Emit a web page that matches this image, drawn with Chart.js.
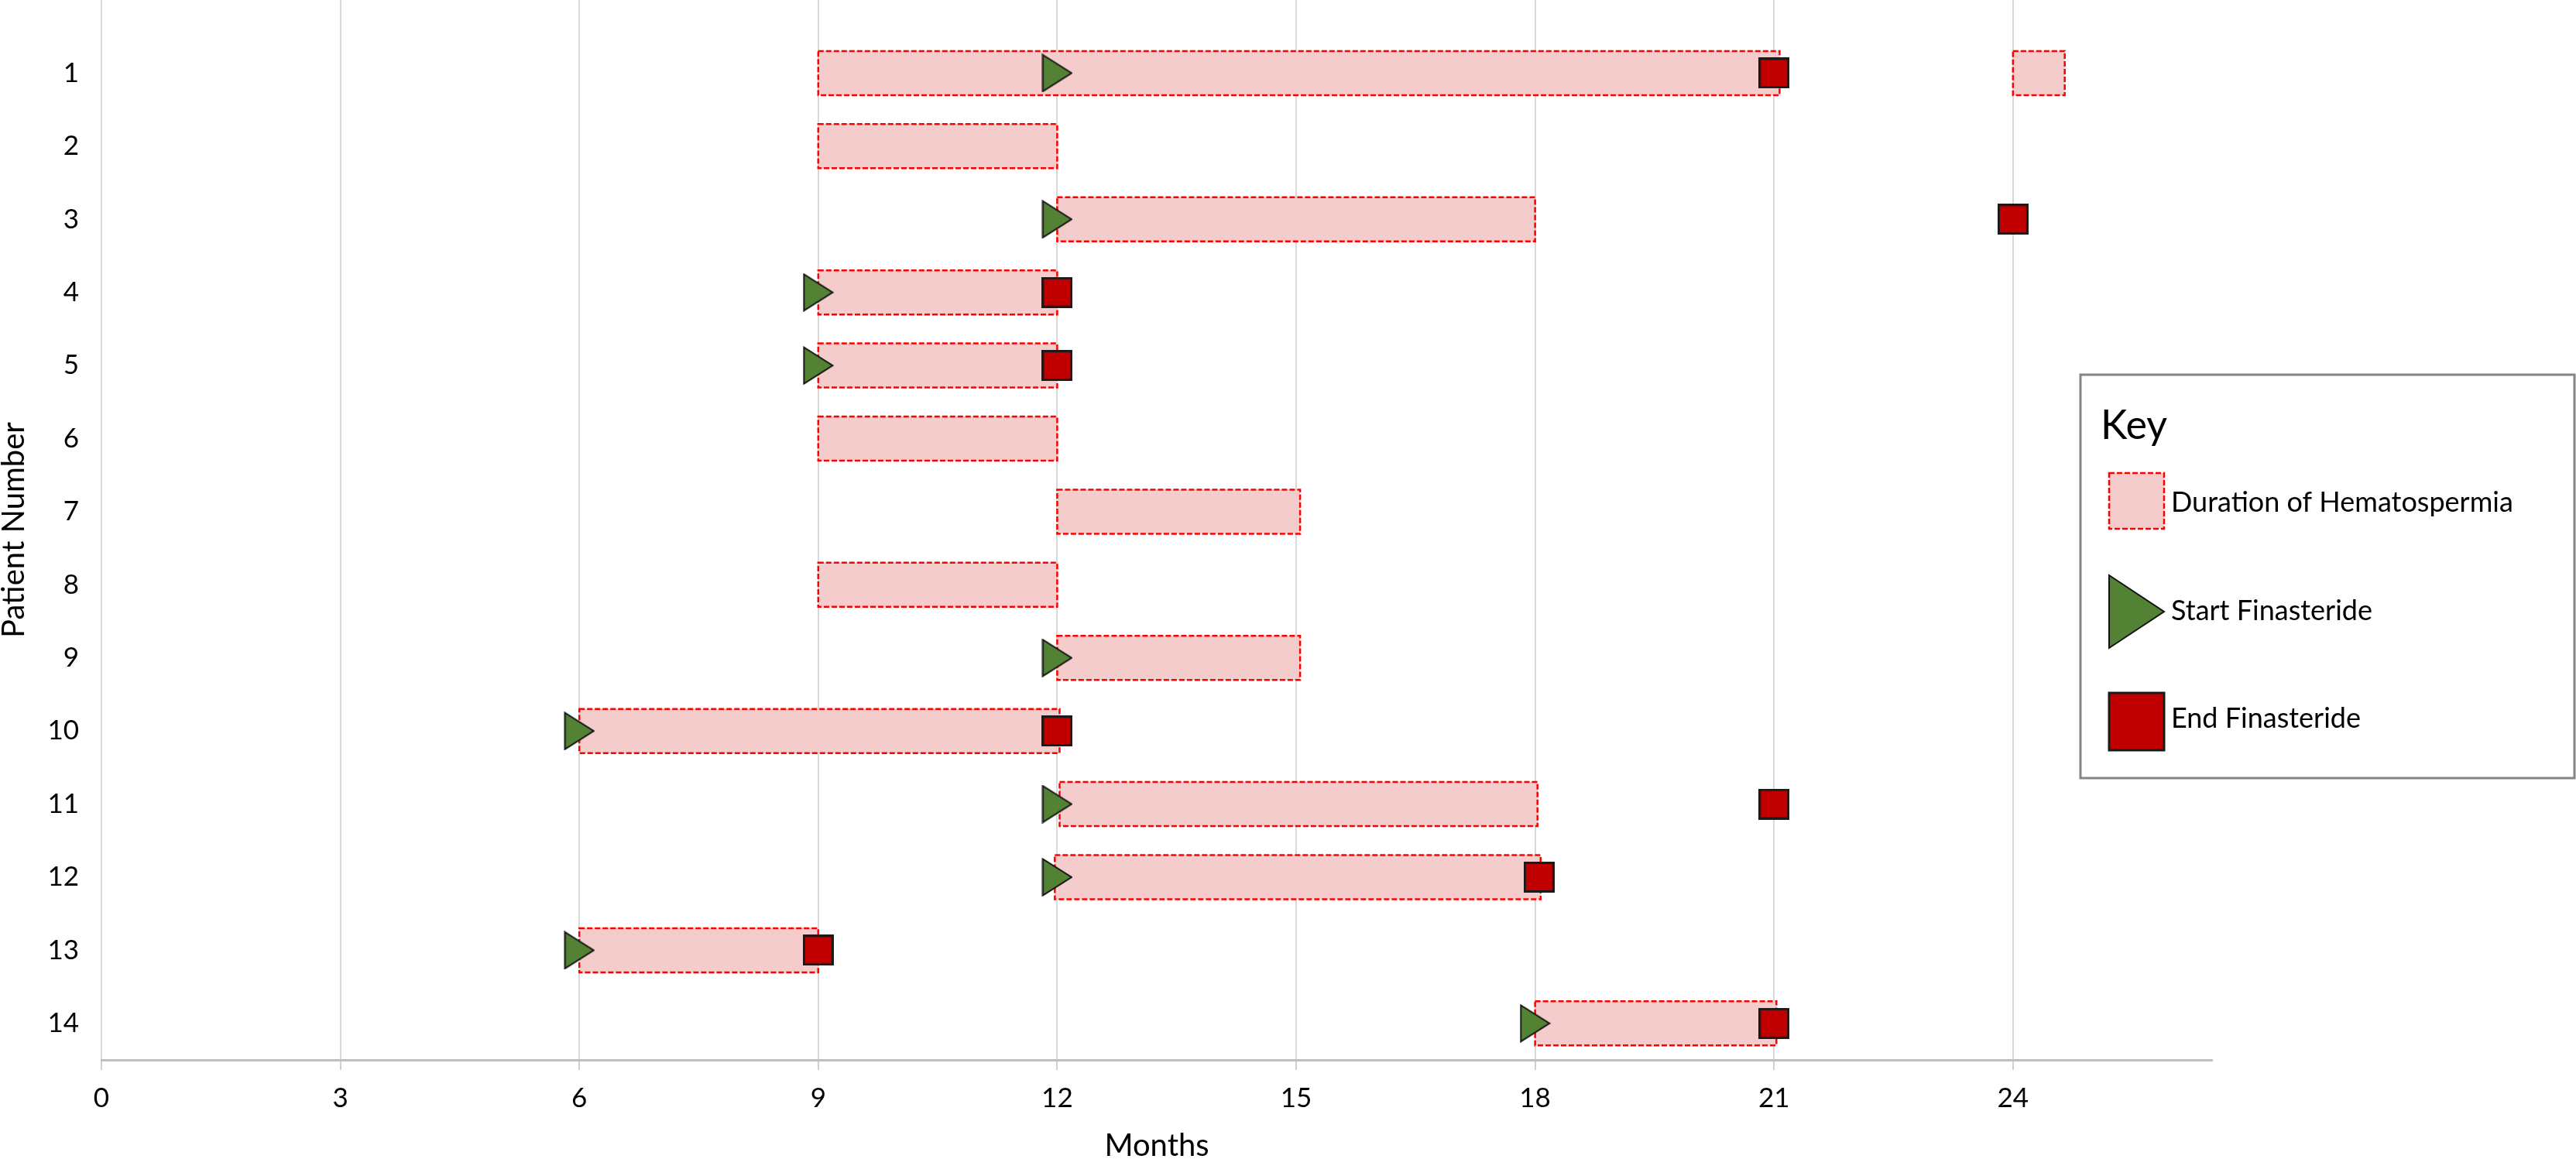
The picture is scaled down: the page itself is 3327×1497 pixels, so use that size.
<!DOCTYPE html>
<html>
<head>
<meta charset="utf-8">
<script src="https://cdn.jsdelivr.net/npm/chart.js@4.4.0/dist/chart.umd.min.js"></script>
<style>
  html, body { margin: 0; padding: 0; background: #fff; }
  #wrap { width: 3327px; height: 1497px; }
</style>
</head>
<body>
<div id="wrap"><canvas id="chart" width="3327" height="1497"></canvas></div>
<script>
// hematospermia episodes, one row per patient (months)
const patients = [1, 2, 3, 4, 5, 6, 7, 8, 9, 10, 11, 12, 13, 14];
const durationStart = [9, 9, 12, 9, 9, 9, 12, 9, 12, 6, 12.03, 11.97, 6, 18];
const durationEnd = [21.07, 12, 18, 12, 12, 12, 15.05, 12, 15.05, 12.03, 18.03, 18.07, 9, 21.03];

// patient 1 had a second short episode
const extraPatients = [1];
const extraStart = [24];
const extraEnd = [24.65];

const startPatients = [1, 3, 4, 5, 9, 10, 11, 12, 13, 14];
const startMonths = [12, 12, 9, 9, 12, 6, 12, 12, 6, 18];

const endPatients = [1, 3, 4, 5, 10, 11, 12, 13, 14];
const endMonths = [21, 24, 12, 12, 12, 21, 18.05, 9, 21];

const monthTicks = [0, 3, 6, 9, 12, 15, 18, 21, 24];
const patientTicks = patients;

const barFill = '#f4cccc';
const barDash = '#ff0000';
const green = '#548235';
const darkRed = '#c00000';

function makeTriangle(w, h) {
  const c = document.createElement('canvas');
  c.width = w; c.height = h;
  const g = c.getContext('2d');
  g.beginPath();
  g.moveTo(1.5, 1.5);
  g.lineTo(w - 1.5, h / 2);
  g.lineTo(1.5, h - 1.5);
  g.closePath();
  g.fillStyle = green;
  g.fill();
  g.lineWidth = 2;
  g.strokeStyle = '#111';
  g.stroke();
  return c;
}

function makeSquare(s) {
  const c = document.createElement('canvas');
  c.width = s; c.height = s;
  const g = c.getContext('2d');
  g.fillStyle = darkRed;
  g.fillRect(1.5, 1.5, s - 3, s - 3);
  g.lineWidth = 3;
  g.strokeStyle = '#1a1a1a';
  g.strokeRect(1.5, 1.5, s - 3, s - 3);
  return c;
}

// Excel-style dashed outline on each duration bar
const dashedBorders = {
  id: 'dashedBorders',
  afterDatasetDraw(chart, args) {
    if (args.meta.type !== 'bar') return;
    const ctx = chart.ctx;
    ctx.save();
    ctx.strokeStyle = barDash;
    ctx.lineWidth = 2.5;
    ctx.setLineDash([7, 3]);
    args.meta.data.forEach(el => {
      const {x, y, base, height} = el.getProps(['x', 'y', 'base', 'height'], true);
      ctx.strokeRect(Math.min(x, base), y - height / 2, Math.abs(x - base), height);
    });
    ctx.restore();
  }
};

// the boxed "Key" sitting over the right end of the plot
const keyBox = {
  id: 'keyBox',
  afterDraw(chart) {
    const ctx = chart.ctx;
    const ds = chart.data.datasets;
    const L = chart.width - 640, T = 484, W = 638, H = 521;
    ctx.save();
    ctx.fillStyle = '#fff';
    ctx.fillRect(L, T, W, H);
    ctx.strokeStyle = '#858585';
    ctx.lineWidth = 3;
    ctx.strokeRect(L, T, W, H);

    ctx.fillStyle = '#000';
    ctx.textBaseline = 'alphabetic';
    ctx.font = '52px Lato';
    ctx.fillText('Key', L + 26, T + 83);

    const sx = L + 37, sw = 71;
    // duration swatch
    ctx.fillStyle = barFill;
    ctx.fillRect(sx, T + 127, sw, 72);
    ctx.strokeStyle = barDash;
    ctx.lineWidth = 2.5;
    ctx.setLineDash([7, 3]);
    ctx.strokeRect(sx, T + 127, sw, 72);
    ctx.setLineDash([]);
    // start swatch
    ctx.beginPath();
    ctx.moveTo(sx, T + 259);
    ctx.lineTo(sx + sw, T + 306);
    ctx.lineTo(sx, T + 353);
    ctx.closePath();
    ctx.fillStyle = green;
    ctx.fill();
    ctx.strokeStyle = '#111';
    ctx.lineWidth = 2;
    ctx.stroke();
    // end swatch
    ctx.fillStyle = darkRed;
    ctx.fillRect(sx, T + 411, sw, 74);
    ctx.strokeStyle = '#1a1a1a';
    ctx.lineWidth = 3;
    ctx.strokeRect(sx, T + 411, sw, 74);

    ctx.fillStyle = '#000';
    ctx.font = '36px Lato';
    ctx.textBaseline = 'middle';
    const tx = sx + sw + 9;
    ctx.fillText(ds[0].label, tx, T + 165);
    ctx.fillText(ds[1].label, tx, T + 305);
    ctx.fillText(ds[2].label, tx, T + 444);
    ctx.restore();
  }
};

function draw() {
  const bars = patients.map((p, i) => ({x: [durationStart[i], durationEnd[i]], y: p}))
    .concat(extraPatients.map((p, i) => ({x: [extraStart[i], extraEnd[i]], y: p})));
  const starts = startPatients.map((p, i) => ({x: startMonths[i], y: p}));
  const ends = endPatients.map((p, i) => ({x: endMonths[i], y: p}));

  Chart.defaults.font.family = 'Lato';
  Chart.defaults.color = '#000';

  new Chart(document.getElementById('chart'), {
    type: 'scatter',
    data: {
      datasets: [
        {
          type: 'bar',
          label: 'Duration of Hematospermia',
          indexAxis: 'y',
          data: bars,
          backgroundColor: barFill,
          borderWidth: 0,
          barThickness: 57,
          order: 3
        },
        {
          type: 'scatter',
          label: 'Start Finasteride',
          data: starts,
          pointStyle: makeTriangle(40, 50),
          pointRadius: 20,
          order: 2
        },
        {
          type: 'scatter',
          label: 'End Finasteride',
          data: ends,
          pointStyle: makeSquare(40),
          pointRadius: 20,
          order: 1
        }
      ]
    },
    options: {
      responsive: false,
      devicePixelRatio: 1,
      animation: false,
      layout: {autoPadding: false, padding: {left: 0, right: 470, top: 0, bottom: 0}},
      plugins: {
        legend: {display: false},
        tooltip: {enabled: false}
      },
      scales: {
        x: {
          type: 'linear',
          offset: false,
          min: 0,
          max: 26.5,
          afterBuildTicks: s => { s.ticks = monthTicks.map(v => ({value: v})); },
          afterFit: s => { s.height = 128; },
          ticks: {font: {size: 35}, padding: 16},
          grid: {color: '#d9d9d9', lineWidth: 2, tickLength: 13, tickColor: '#cfcfcf', offset: false},
          border: {display: true, color: '#bfbfbf', width: 3},
          title: {display: true, text: 'Months', font: {size: 40, lineHeight: 0.85}, padding: 0}
        },
        y: {
          type: 'linear',
          offset: false,
          reverse: true,
          min: 0,
          max: 14.5,
          afterBuildTicks: s => { s.ticks = patientTicks.map(v => ({value: v})); },
          afterFit: s => { s.width = 131; s.paddingTop = 0; s.paddingBottom = 0; },
          ticks: {font: {size: 35}, padding: 29},
          grid: {display: false, drawTicks: false, offset: false},
          border: {display: false},
          title: {display: true, text: 'Patient Number', font: {size: 40, lineHeight: 0.9}, padding: 0}
        }
      }
    },
    plugins: [dashedBorders, keyBox]
  });
}

document.fonts.load('35px Lato').then(draw, draw);
</script>
</body>
</html>
